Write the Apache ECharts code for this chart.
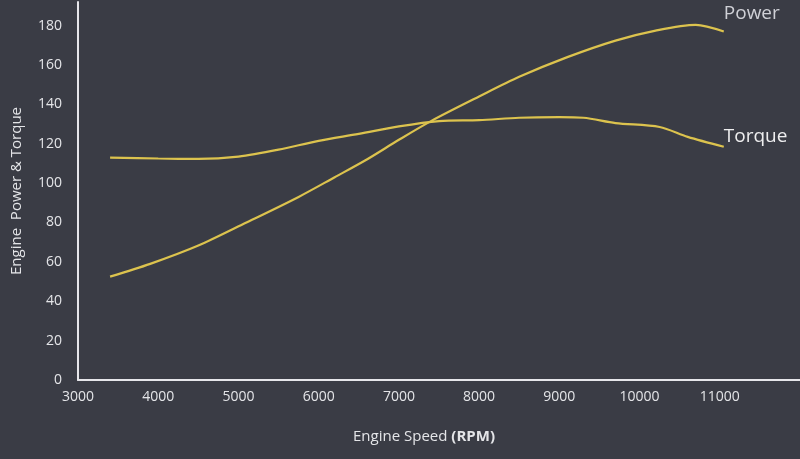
<!DOCTYPE html>
<html>
<head>
<meta charset="utf-8">
<script src="https://cdn.jsdelivr.net/npm/echarts@6/dist/echarts.min.js"></script>
<style>
  html, body { margin: 0; padding: 0; background: #3a3c45; }
  #chart { width: 800px; height: 459px; }
</style>
</head>
<body>
<div id="chart"></div>
<script>
// engine speed (rpm) and values
var powerRpm = [3400, 3900, 4500, 5100, 5750, 6200, 6600, 7000, 7400, 8000, 8500, 9100, 9700, 10200, 10700, 11050];
var powerVal = [52.5, 59, 68.3, 80, 93, 103, 112, 122, 131.5, 144, 154, 164, 172.4, 177.5, 180.4, 177];
var torqueRpm = [3400, 4000, 4500, 5000, 5500, 6000, 6500, 7000, 7500, 8000, 8500, 9000, 9300, 9700, 10250, 10600, 11050];
var torqueVal = [113, 112.5, 112.3, 113.5, 117, 121.5, 125, 128.8, 131.5, 132, 133.2, 133.5, 133.2, 130.5, 128.5, 123.5, 118.5];

function pairs(xs, ys) {
    return xs.map(function (x, i) { return [x, ys[i]]; });
}

var lineColor = '#dcc34e';
var textColor = '#e4e5e8';
var font = 'Open Sans';

var myChart = echarts.init(document.getElementById('chart'));
myChart.setOption({
    backgroundColor: '#3a3c45',
    animation: false,
    grid: {left: 78, top: 2, right: -3, bottom: 79},
    xAxis: {
        type: 'value',
        min: 3000,
        max: 12000,
        interval: 1000,
        name: 'Engine Speed {b|(RPM)}',
        nameLocation: 'middle',
        nameGap: 49,
        nameTextStyle: {
            color: textColor, fontSize: 15, fontFamily: font,
            padding: [0, 30, 0, 0],
            rich: {b: {fontWeight: 'bold', fontSize: 15, color: textColor, fontFamily: font}}
        },
        axisLine: {lineStyle: {color: '#e6e6ea', width: 2}},
        axisTick: {show: false},
        splitLine: {show: false},
        axisLabel: {
            color: textColor, fontSize: 14, fontFamily: font, margin: 10, showMaxLabel: false,
            formatter: function (v) { return String(v); }
        }
    },
    yAxis: {
        type: 'value',
        min: 0,
        max: 192,
        interval: 20,
        name: 'Engine  Power & Torque',
        nameLocation: 'middle',
        nameGap: 54,
        nameTextStyle: {color: textColor, fontSize: 15, fontFamily: font},
        axisLine: {show: true, lineStyle: {color: '#e6e6ea', width: 2}},
        axisTick: {show: false},
        splitLine: {show: false},
        axisLabel: {color: textColor, fontSize: 14, fontFamily: font, margin: 16, showMaxLabel: false}
    },
    series: [
        {
            name: 'Power',
            type: 'line',
            smooth: 0.3,
            symbol: 'none',
            data: pairs(powerRpm, powerVal),
            lineStyle: {color: lineColor, width: 2.2},
            endLabel: {
                show: true,
                formatter: 'Power',
                color: '#cfd0d6',
                fontSize: 19,
                fontFamily: font,
                distance: 0,
                offset: [0, -18]
            }
        },
        {
            name: 'Torque',
            type: 'line',
            smooth: 0.3,
            symbol: 'none',
            data: pairs(torqueRpm, torqueVal),
            lineStyle: {color: lineColor, width: 2.2},
            endLabel: {
                show: true,
                formatter: 'Torque',
                color: '#eeeeef',
                fontSize: 19,
                fontFamily: font,
                distance: 0,
                offset: [0, -10]
            }
        }
    ]
});
</script>
</body>
</html>
